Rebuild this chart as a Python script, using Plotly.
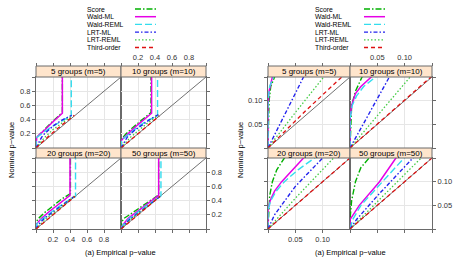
import plotly.graph_objects as go

W, H = 453, 259

METHODS = ["Score", "Wald-ML", "Wald-REML", "LRT-ML", "LRT-REML", "Third-order"]
COLORS = ["#00B000", "#E600E6", "#33DDEE", "#2222EE", "#44CC44", "#DD1111"]
DASHES = ["6px,2px,1.5px,2px", "solid", "7px,3px", "4px,2px,1.5px,2px", "1.5px,2px", "4px,3px"]
WIDTHS = [1.4, 1.5, 1.4, 1.4, 1.3, 1.3]
GROUPS = ["5 groups (m=5)", "10 groups (m=10)", "20 groups (m=20)", "50 groups (m=50)"]

FULL_TICKS = [0, 0.2, 0.4, 0.6, 0.8, 1.0]
FULL_LABELS = ["", "0.2", "0.4", "0.6", "0.8", ""]
ZOOM_TICKS = [0, 0.05, 0.10, 0.15]
ZOOM_LABELS = ["", "0.05", "0.10", ""]
FULL_RANGE = [0, 1]
ZOOM_RANGE = [0, 0.15]
DIAG = [0, 1]

# ---- curves (empirical x, nominal y) ----
m5_score = ([0, 0.001, 0.002, 0.005, 0.012, 0.05, 0.1, 0.2, 0.31, 0.31],
            [0, 0.05, 0.10, 0.13, 0.15, 0.2, 0.26, 0.38, 0.50, 1.0])
m5_wald_ml = ([0, 0, 0.002, 0.008, 0.05, 0.1, 0.2, 0.31, 0.31],
              [0, 0.09, 0.12, 0.15, 0.2, 0.25, 0.37, 0.49, 1.0])
m5_wald_reml = ([0, 0, 0.003, 0.01, 0.05, 0.1, 0.2, 0.3, 0.415, 0.415],
                [0, 0.1, 0.13, 0.15, 0.19, 0.23, 0.31, 0.38, 0.455, 1.0])
m5_lrt_ml = ([0, 0.03, 0.065, 0.1, 0.2, 0.3, 0.42],
             [0, 0.07, 0.15, 0.2, 0.31, 0.39, 0.46])
m5_lrt_reml = ([0, 0.05, 0.102, 0.2, 0.3, 0.42],
               [0, 0.075, 0.15, 0.26, 0.35, 0.45])
m5_third = ([0, 0.07, 0.135, 0.25, 0.35, 0.45],
            [0, 0.08, 0.15, 0.27, 0.37, 0.46])

m10_score = ([0, 0.001, 0.003, 0.01, 0.022, 0.06, 0.15, 0.25, 0.353, 0.353],
             [0, 0.05, 0.09, 0.12, 0.15, 0.2, 0.3, 0.4, 0.5, 1.0])
m10_wald_ml = ([0, 0, 0.003, 0.01, 0.02, 0.04, 0.1, 0.2, 0.36, 0.36],
               [0, 0.06, 0.09, 0.115, 0.13, 0.15, 0.22, 0.33, 0.49, 1.0])
m10_wald_reml = ([0, 0, 0.004, 0.012, 0.025, 0.045, 0.1, 0.2, 0.3, 0.43, 0.43],
                 [0, 0.06, 0.09, 0.11, 0.13, 0.15, 0.2, 0.3, 0.38, 0.455, 1.0])
m10_lrt_ml = ([0, 0.072, 0.15, 0.25, 0.35, 0.44],
              [0, 0.15, 0.24, 0.33, 0.41, 0.47])
m10_lrt_reml = ([0, 0.11, 0.2, 0.3, 0.44],
                [0, 0.15, 0.24, 0.34, 0.46])
m10_third = ([0, 0.148, 0.3, 0.45],
             [0, 0.15, 0.3, 0.45])

m20_score = ([0, 0.001, 0.003, 0.008, 0.016, 0.03, 0.1, 0.2, 0.3, 0.405, 0.405],
             [0, 0.04, 0.07, 0.1, 0.125, 0.15, 0.23, 0.33, 0.42, 0.5, 1.0])
m20_wald_ml = ([0, 0, 0.004, 0.012, 0.025, 0.045, 0.065, 0.15, 0.25, 0.4, 0.4],
               [0, 0.04, 0.06, 0.08, 0.1, 0.125, 0.15, 0.24, 0.33, 0.475, 1.0])
m20_wald_reml = ([0, 0, 0.005, 0.015, 0.03, 0.055, 0.085, 0.15, 0.25, 0.35, 0.465, 0.465],
                 [0, 0.04, 0.06, 0.08, 0.1, 0.125, 0.15, 0.21, 0.3, 0.38, 0.455, 1.0])
m20_lrt_ml = ([0, 0.012, 0.05, 0.1, 0.2, 0.3, 0.45],
              [0, 0.03, 0.09, 0.15, 0.24, 0.33, 0.46])
m20_lrt_reml = ([0, 0.05, 0.12, 0.2, 0.3, 0.45],
                [0, 0.065, 0.15, 0.22, 0.32, 0.46])
m20_third = ([0, 0.15, 0.3, 0.46],
             [0, 0.15, 0.3, 0.46])

m50_score = ([0, 0, 0.003, 0.01, 0.02, 0.035, 0.1, 0.2, 0.3, 0.443, 0.443],
             [0, 0.02, 0.06, 0.1, 0.13, 0.15, 0.2, 0.28, 0.36, 0.48, 1.0])
m50_wald_ml = ([0, 0, 0.017, 0.054, 0.084, 0.15, 0.25, 0.35, 0.443, 0.443],
               [0, 0.02, 0.05, 0.1, 0.15, 0.21, 0.3, 0.39, 0.475, 1.0])
m50_wald_reml = ([0, 0.005, 0.02, 0.06, 0.099, 0.2, 0.3, 0.47, 0.47],
                 [0, 0.02, 0.05, 0.1, 0.15, 0.24, 0.33, 0.465, 1.0])
m50_lrt_ml = ([0, 0.012, 0.05, 0.115, 0.2, 0.3, 0.46],
              [0, 0.02, 0.07, 0.15, 0.22, 0.31, 0.46])
m50_lrt_reml = ([0, 0.13, 0.3, 0.46],
                [0, 0.15, 0.31, 0.46])
m50_third = ([0, 0.15, 0.3, 0.46],
             [0, 0.15, 0.3, 0.46])

PANEL_CURVES = [
    [m5_score, m5_wald_ml, m5_wald_reml, m5_lrt_ml, m5_lrt_reml, m5_third],
    [m10_score, m10_wald_ml, m10_wald_reml, m10_lrt_ml, m10_lrt_reml, m10_third],
    [m20_score, m20_wald_ml, m20_wald_reml, m20_lrt_ml, m20_lrt_reml, m20_third],
    [m50_score, m50_wald_ml, m50_wald_reml, m50_lrt_ml, m50_lrt_reml, m50_third],
]

# ---- layout geometry (pixels) ----
FIG_COLS = [[(36, 121), (121, 206)], [(268, 350), (350, 432)]]
ROWS = [(77, 148), (158, 229)]
STRIPS = [(66, 77), (148, 158)]
LEG_TEXT_X = [86, 314]
LEG_LINE_X = [(135, 156), (364, 385)]
LEG_Y0, LEG_DY = 9.0, 7.7

FONT = "Liberation Sans, Arial, sans-serif"
BORDER = "#6a6a6a"
GRID = "#e6e6e6"
TICKFONT = dict(size=7.5, color="#333", family=FONT)


def pxx(x):
    return x / W


def pxy(y):
    return 1 - y / H


fig = go.Figure()
layout = {}
shapes = []
annotations = []
extra = 9

k = 0
for f in range(2):
    rng = FULL_RANGE if f == 0 else ZOOM_RANGE
    tv = FULL_TICKS if f == 0 else ZOOM_TICKS
    tl = FULL_LABELS if f == 0 else ZOOM_LABELS
    blank = [""] * len(tv)
    for r in range(2):
        for c in range(2):
            k += 1
            g = r * 2 + c
            x0, x1 = FIG_COLS[f][c]
            ytop, ybot = ROWS[r]
            xd = [pxx(x0), pxx(x1)]
            yd = [pxy(ybot), pxy(ytop)]
            xa = dict(domain=xd, anchor=f"y{k}", range=rng, tickvals=tv,
                      showgrid=True, gridcolor=GRID, gridwidth=1, zeroline=False,
                      showline=True, mirror=True, linecolor=BORDER, linewidth=1,
                      tickfont=TICKFONT, tickcolor=BORDER, ticklen=3, tickwidth=1)
            if r == 1:
                xa.update(ticks="outside", ticktext=tl if c == 0 else blank)
            else:
                xa.update(ticks="", showticklabels=False)
            ya = dict(domain=yd, anchor=f"x{k}", range=rng, tickvals=tv,
                      side="left" if c == 0 else "right",
                      showgrid=True, gridcolor=GRID, gridwidth=1, zeroline=False,
                      showline=True, mirror=True, linecolor=BORDER, linewidth=1,
                      ticks="outside", ticklen=3, tickwidth=1, tickcolor=BORDER,
                      ticktext=tl if (r == 0 and c == 0) or (r == 1 and c == 1) else blank,
                      tickfont=TICKFONT)
            layout[f"xaxis{k}"] = xa
            layout[f"yaxis{k}"] = ya

            if r == 0:
                layout[f"xaxis{extra}"] = dict(
                    overlaying=f"x{k}", anchor="free", position=pxy(STRIPS[0][0]),
                    side="top", range=rng, tickvals=tv,
                    ticktext=tl if c == 1 else blank, ticks="outside", ticklen=3,
                    tickwidth=1, tickcolor=BORDER, showgrid=False, zeroline=False,
                    showline=False, tickfont=TICKFONT)
                fig.add_trace(go.Scatter(x=[None], y=[None], xaxis=f"x{extra}",
                                         yaxis=f"y{k}", showlegend=False,
                                         hoverinfo="skip"))
                extra += 1

            # reference diagonal
            fig.add_trace(go.Scatter(x=DIAG, y=DIAG, mode="lines",
                                     line=dict(color="#333", width=0.7),
                                     xaxis=f"x{k}", yaxis=f"y{k}",
                                     showlegend=False, hoverinfo="skip"))
            for mi, (cx, cy) in enumerate(PANEL_CURVES[g]):
                fig.add_trace(go.Scatter(x=cx, y=cy, mode="lines",
                                         line=dict(color=COLORS[mi], dash=DASHES[mi],
                                                   width=WIDTHS[mi]),
                                         xaxis=f"x{k}", yaxis=f"y{k}",
                                         showlegend=False, hoverinfo="skip"))
            # strip
            st, sb = STRIPS[r]
            shapes.append(dict(type="rect", xref="paper", yref="paper",
                               x0=pxx(x0), x1=pxx(x1), y0=pxy(sb), y1=pxy(st),
                               fillcolor="#FFE5CC", line=dict(color=BORDER, width=1),
                               layer="above"))
            annotations.append(dict(text=GROUPS[g], xref="paper", yref="paper",
                                    x=pxx((x0 + x1) / 2), y=pxy((st + sb) / 2),
                                    showarrow=False, xanchor="center", yanchor="middle",
                                    borderpad=0,
                                    font=dict(size=8, color="#000", family=FONT)))

    # axis titles
    cx0 = FIG_COLS[f][0][0]
    cx1 = FIG_COLS[f][1][1]
    annotations.append(dict(text="(a) Empirical p\u2212value", xref="paper", yref="paper",
                            x=pxx((cx0 + cx1) / 2), y=pxy(252), showarrow=False,
                            xanchor="center", yanchor="middle",
                            font=dict(size=7.5, color="#000", family=FONT)))
    annotations.append(dict(text="Nominal p\u2212value", xref="paper", yref="paper",
                            x=pxx(11 if f == 0 else 240), y=pxy(150), showarrow=False,
                            textangle=-90, xanchor="center", yanchor="middle",
                            font=dict(size=7.5, color="#000", family=FONT)))
    # legend
    for mi, name in enumerate(METHODS):
        yy = LEG_Y0 + LEG_DY * mi
        annotations.append(dict(text=name, xref="paper", yref="paper",
                                x=pxx(LEG_TEXT_X[f]), y=pxy(yy), showarrow=False,
                                xanchor="left", yanchor="middle", borderpad=0,
                                font=dict(size=6.8, color="#000", family=FONT)))
        lx0, lx1 = LEG_LINE_X[f]
        shapes.append(dict(type="line", xref="paper", yref="paper",
                           x0=pxx(lx0), x1=pxx(lx1), y0=pxy(yy), y1=pxy(yy),
                           line=dict(color=COLORS[mi], width=WIDTHS[mi],
                                     dash=DASHES[mi])))

fig.update_layout(**layout)
fig.update_layout(width=W, height=H, margin=dict(l=0, r=0, t=0, b=0),
                  paper_bgcolor="white", plot_bgcolor="white",
                  showlegend=False, shapes=shapes, annotations=annotations,
                  font=dict(family=FONT, size=7))
fig.write_html("out.html")
